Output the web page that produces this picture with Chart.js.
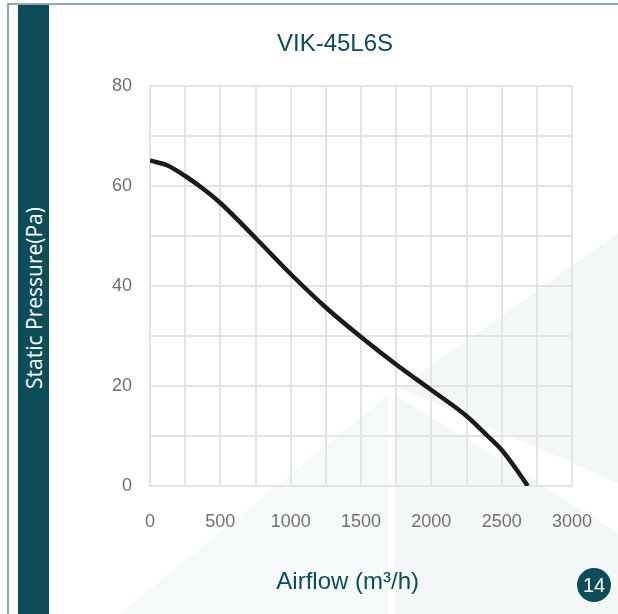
<!DOCTYPE html>
<html>
<head>
<meta charset="utf-8">
<script src="https://cdn.jsdelivr.net/npm/chart.js@4/dist/chart.umd.min.js"></script>
<style>
  html, body { margin: 0; padding: 0; background: #fff; }
  #wrap { position: relative; width: 618px; height: 614px; overflow: hidden; }
  #myChart { position: absolute; left: 0; top: 0; }
  .topline { position: absolute; left: 7px; top: 3px; width: 611px; height: 2px; background: #8ea9b2; }
  .leftline { position: absolute; left: 7px; top: 3px; width: 2px; height: 611px; background: #8ea9b2; }
  .sidebar { position: absolute; left: 18px; top: 5px; width: 31px; height: 609px; background: #0d4d5a; }
  .ylabel { position: absolute; left: 34px; top: 298px; transform: translate(-50%, -50%) rotate(-90deg);
    color: #fff; font: 21px "Open Sans", sans-serif; white-space: nowrap; }
  .page { position: absolute; left: 577px; top: 568px; width: 34px; height: 34px; border-radius: 50%;
    background: #0d4d5a; color: #fff; font: 20px "Liberation Sans", Arial, sans-serif;
    text-align: center; line-height: 34px; }
</style>
</head>
<body>
<div id="wrap">
  <canvas id="myChart" width="618" height="614"></canvas>
  <div class="topline"></div>
  <div class="leftline"></div>
  <div class="sidebar"></div>
  <div class="ylabel">Static Pressure(Pa)</div>
  <div class="page">14</div>
</div>
<script>
const airflow = [0, 125, 250, 375, 500, 750, 1000, 1250, 1500, 1750, 2000, 2250, 2400, 2500, 2600, 2685];
const pressure = [65.1, 64.1, 62.0, 59.5, 56.6, 49.6, 42.4, 35.7, 29.8, 24.3, 19.2, 14.0, 10.0, 7.2, 3.5, 0];
const xTicks = [0, 500, 1000, 1500, 2000, 2500, 3000];
const yTicks = [0, 20, 40, 60, 80];

const teal = '#0d4d5a';
const font = '"Liberation Sans", Arial, sans-serif';

// faint background triangles of the page
const backdrop = {
  id: 'backdrop',
  beforeDraw(chart) {
    const c = chart.ctx;
    c.save();
    c.fillStyle = '#f4f7f8';
    c.beginPath();
    c.moveTo(618, 233); c.lineTo(618, 483); c.lineTo(400, 388); c.closePath();
    c.fill();
    c.beginPath();
    c.moveTo(395, 395); c.lineTo(618, 533); c.lineTo(618, 614); c.lineTo(395, 614); c.closePath();
    c.fill();
    c.fillStyle = '#f6f9f9';
    c.beginPath();
    c.moveTo(120, 614); c.lineTo(388, 395); c.lineTo(388, 614); c.closePath();
    c.fill();
    c.restore();
  }
};

const ctx = document.getElementById('myChart');

new Chart(ctx, {
  type: 'line',
  data: {
    datasets: [{
      data: airflow.map((x, i) => ({ x: x, y: pressure[i] })),
      borderColor: '#1d1a1a',
      borderWidth: 4.5,
      pointRadius: 0,
      cubicInterpolationMode: 'monotone',
      fill: false
    }]
  },
  options: {
    responsive: false,
    animation: false,
    layout: { padding: { left: 98, right: 46, top: 0, bottom: 0 } },
    plugins: {
      legend: { display: false },
      tooltip: { enabled: false },
      title: {
        display: true,
        text: 'VIK-45L6S',
        color: teal,
        font: { family: font, size: 24, weight: 'normal', lineHeight: 1.2 },
        padding: { top: 30, bottom: 27.2 }
      }
    },
    scales: {
      x: {
        type: 'linear',
        min: 0,
        max: 3000,
        afterFit: s => { s.height = 128; },
        afterBuildTicks: s => { s.ticks = []; for (let v = 0; v <= 3000; v += 250) s.ticks.push({ value: v }); },
        grid: { color: '#e4e4e4', lineWidth: 2, drawTicks: false },
        border: { color: '#e4e4e4', width: 2 },
        ticks: {
          padding: 25,
          maxRotation: 0,
          autoSkip: false,
          color: '#707070',
          font: { family: font, size: 18 },
          callback: v => xTicks.includes(v) ? String(v) : ''
        },
        title: {
          display: true,
          text: 'Airflow (m³/h)\u00a0\u00a0\u00a0\u00a0',
          color: teal,
          font: { family: font, size: 24 },
          padding: { top: 0, bottom: 17 }
        }
      },
      y: {
        min: 0,
        max: 80,
        afterFit: s => { s.width = 52; },
        afterBuildTicks: s => { s.ticks = []; for (let v = 0; v <= 80; v += 10) s.ticks.push({ value: v }); },
        grid: { color: '#e4e4e4', lineWidth: 2, drawTicks: false },
        border: { color: '#e4e4e4', width: 2 },
        ticks: {
          padding: 18,
          color: '#707070',
          font: { family: font, size: 18 },
          callback: v => yTicks.includes(v) ? String(v) : ''
        }
      }
    }
  },
  plugins: [backdrop]
});
</script>
</body>
</html>
